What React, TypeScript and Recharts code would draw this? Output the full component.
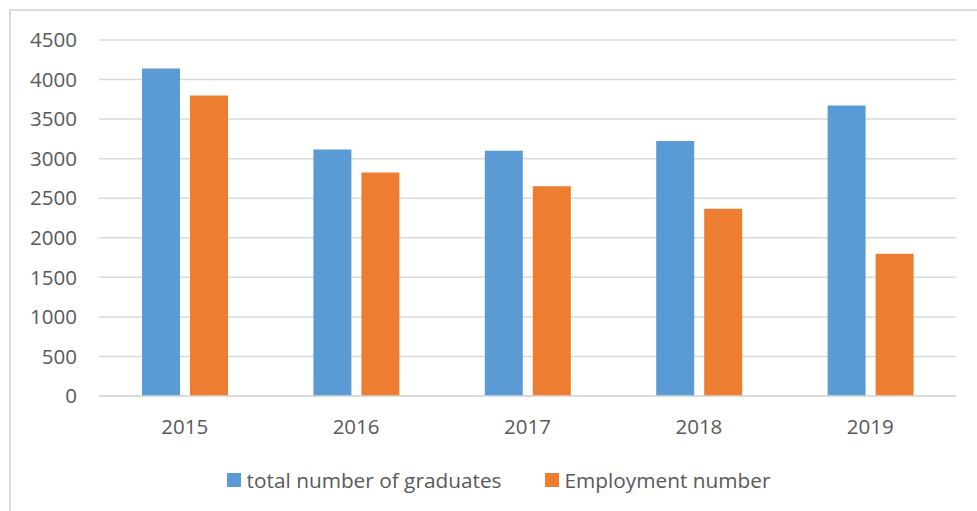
import { BarChart, Bar, XAxis, YAxis, CartesianGrid, Legend } from "recharts";

const years = ["2015", "2016", "2017", "2018", "2019"];
const graduates = [4141, 3117, 3100, 3222, 3673];
const employment = [3800, 2826, 2652, 2368, 1799];
const yTicks = [0, 500, 1000, 1500, 2000, 2500, 3000, 3500, 4000, 4500];
const seriesOrder = ["graduates", "employment"];

const FONT = "'Open Sans', sans-serif";
const TEXT = "#595959";
const GRID = "#d9d9d9";
const BLUE = "#5b9bd5";
const ORANGE = "#ed7d31";

const data = years.map((year, i) => ({
  year,
  graduates: graduates[i],
  employment: employment[i],
}));

function LegendContent({ payload }: any) {
  // keep the series order instead of recharts' alphabetical sort
  const items = [...(payload || [])].sort(
    (a: any, b: any) => seriesOrder.indexOf(a.dataKey) - seriesOrder.indexOf(b.dataKey)
  );
  return (
    <div
      style={{
        display: "flex",
        justifyContent: "center",
        alignItems: "center",
        height: 50,
        fontFamily: FONT,
        fontSize: 20.8,
        color: TEXT,
        gap: 43,
      }}
    >
      {items.map((p: any) => (
        <div key={p.value} style={{ display: "flex", alignItems: "center" }}>
          <span
            style={{
              display: "inline-block",
              width: 14,
              height: 14,
              background: p.color,
              marginRight: 6,
            }}
          />
          <span>{p.value}</span>
        </div>
      ))}
    </div>
  );
}

export default function App() {
  return (
    <div style={{ position: "absolute", left: 0, top: 0, width: 977, height: 511, background: "#fff" }}>
      <div
        style={{
          position: "absolute",
          left: 9,
          top: 9,
          width: 990,
          height: 520,
          border: "2px solid #dcdcdc",
        }}
      />
      <div style={{ position: "absolute", left: 0, top: 0 }}>
        <BarChart
          width={977}
          height={511}
          data={data}
          margin={{ top: 40, right: 21, left: 41, bottom: 6 }}
          barSize={38}
          barGap={10}
        >
          <CartesianGrid vertical={false} stroke={GRID} strokeWidth={1.5} />
          <XAxis
            dataKey="year"
            height={59}
            axisLine={{ stroke: GRID, strokeWidth: 1.5 }}
            tickLine={false}
            tickMargin={17}
            tick={{ fontSize: 20.5, fill: TEXT, fontFamily: FONT }}
          />
          <YAxis
            width={58}
            domain={[0, 4500]}
            ticks={yTicks}
            axisLine={false}
            tickLine={false}
            tickMargin={16}
            tick={{ fontSize: 20.5, fill: TEXT, fontFamily: FONT }}
          />
          <Legend verticalAlign="bottom" height={50} content={<LegendContent />} />
          <Bar
            dataKey="graduates"
            name="total number of graduates"
            fill={BLUE}
            isAnimationActive={false}
          />
          <Bar
            dataKey="employment"
            name="Employment number"
            fill={ORANGE}
            isAnimationActive={false}
          />
        </BarChart>
      </div>
    </div>
  );
}
